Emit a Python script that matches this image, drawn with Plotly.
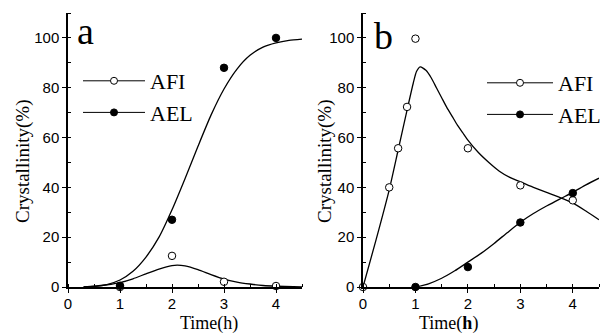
import plotly.graph_objects as go

# ---- data ----
# Panel a: measured points
a_time = [1, 2, 3, 4]
a_afi = [0, 12.5, 2.1, 0.4]
a_ael = [0.5, 27, 88, 100]
# Panel a: fitted curves
a_fit_afi_x = [0.3, 0.5, 0.75, 1.0, 1.25, 1.5, 1.75, 2.0, 2.1, 2.25, 2.5, 2.75, 3.0, 3.25, 3.5, 3.75, 4.0, 4.5]
a_fit_afi_y = [0, 0.3, 0.9, 1.8, 3.3, 5.3, 7.2, 8.6, 8.8, 8.5, 7.0, 5.0, 3.2, 2.0, 1.2, 0.6, 0.3, 0]
a_fit_ael_x = [0.3, 0.5, 0.75, 1.0, 1.25, 1.5, 1.75, 2.0, 2.25, 2.5, 2.75, 3.0, 3.25, 3.5, 3.75, 4.0, 4.25, 4.5]
a_fit_ael_y = [0, 0.2, 1.0, 2.8, 6.3, 12, 20, 31, 43.5, 56.5, 69, 79.5, 87.5, 93, 96.3, 98, 99, 99.5]

# Panel b: measured points
b_afi_time = [0, 0.5, 0.67, 0.84, 1.0, 2, 3, 4]
b_afi = [0, 40, 55.7, 72.3, 99.7, 55.7, 40.8, 34.8]
b_ael_time = [1, 2, 3, 4]
b_ael = [0, 8, 25.9, 37.7]
# Panel b: fitted curves
b_fit_afi_x = [0, 0.25, 0.5, 0.67, 0.84, 0.96, 1.02, 1.09, 1.2, 1.3, 1.4, 1.5, 1.6, 1.7, 1.8, 1.9,
               2.0, 2.2, 2.4, 2.6, 2.8, 3.0, 3.25, 3.5, 3.75, 4.0, 4.25, 4.5]
b_fit_afi_y = [0, 19, 39, 55, 71, 82, 86.5, 88.4, 87, 84, 80, 76, 72, 68.5, 65, 62,
               59, 54, 50, 46.5, 44, 42.2, 40, 38, 36, 33.8, 30.5, 27]
b_fit_ael_x = [1.0, 1.25, 1.5, 1.75, 2.0, 2.25, 2.5, 2.75, 3.0, 3.25, 3.5, 3.75, 4.0, 4.25, 4.5]
b_fit_ael_y = [0, 1.3, 3.5, 6.5, 10, 13.5, 17.5, 21.8, 26, 29.5, 32.5, 35.3, 38, 41, 43.7]

x_ticks = [0, 1, 2, 3, 4]
y_ticks = [0, 20, 40, 60, 80, 100]

W, H = 604, 335
SERIF = "Times New Roman"
SANS = "Arial"

fig = go.Figure()

def curve(x, y, xa, ya):
    fig.add_trace(go.Scatter(x=x, y=y, mode="lines", xaxis=xa, yaxis=ya,
                             line=dict(color="black", width=1.3, shape="spline", smoothing=0.6),
                             showlegend=False, hoverinfo="skip"))

def pts(x, y, xa, ya, filled):
    fig.add_trace(go.Scatter(x=x, y=y, mode="markers", xaxis=xa, yaxis=ya, cliponaxis=False,
                             marker=dict(size=7.5, symbol="circle",
                                         color="black" if filled else "white",
                                         line=dict(color="black", width=1)),
                             showlegend=False))

def leg(name, filled, legend):
    fig.add_trace(go.Scatter(x=[None], y=[None], mode="lines+markers", name=name, legend=legend,
                             line=dict(color="black", width=1),
                             marker=dict(size=7, color="black" if filled else "white",
                                         line=dict(color="black", width=1))))

curve(a_fit_ael_x, a_fit_ael_y, "x", "y")
curve(a_fit_afi_x, a_fit_afi_y, "x", "y")
pts(a_time, a_afi, "x", "y", False)
pts(a_time, a_ael, "x", "y", True)

curve(b_fit_afi_x, b_fit_afi_y, "x2", "y2")
curve(b_fit_ael_x, b_fit_ael_y, "x2", "y2")
pts(b_afi_time, b_afi, "x2", "y2", False)
pts(b_ael_time, b_ael, "x2", "y2", True)

leg("AFI", False, "legend")
leg("AEL", True, "legend")
leg("AFI", False, "legend2")
leg("AEL", True, "legend2")

ydom = [1 - 287 / H, 1 - 13 / H]

def xaxis(dom, anchor):
    return dict(domain=dom, anchor=anchor, range=[0, 4.5], tickvals=x_ticks,
                showline=True, linecolor="black", linewidth=1.5, mirror=False,
                ticks="outside", ticklen=4, tickwidth=1.2, tickcolor="black",
                ticklabelstandoff=-2,
                minor=dict(dtick=0.5, ticks="inside", ticklen=3, tickcolor="black", tickwidth=1),
                showgrid=False, zeroline=False, automargin=False,
                tickfont=dict(family=SANS, size=15, color="black"), fixedrange=True)

def yaxis(anchor):
    return dict(domain=ydom, anchor=anchor, range=[0, 110], tickvals=y_ticks,
                showline=True, linecolor="black", linewidth=1.5, mirror=False,
                ticks="outside", ticklen=4, tickwidth=1.2, tickcolor="black",
                minor=dict(dtick=10, ticks="inside", ticklen=3, tickcolor="black", tickwidth=1),
                showgrid=False, zeroline=False, automargin=False,
                tickfont=dict(family=SANS, size=15, color="black"), fixedrange=True)

legfont = dict(family=SERIF, size=22, color="black")

fig.update_layout(
    width=W, height=H, margin=dict(l=0, r=0, t=0, b=0, autoexpand=False),
    paper_bgcolor="white", plot_bgcolor="white",
    xaxis=xaxis([68 / W, 302 / W], "y"),
    yaxis=yaxis("x"),
    xaxis2=xaxis([363 / W, 599 / W], "y2"),
    yaxis2=yaxis("x2"),
    legend=dict(x=78 / W, y=1 - 60 / H, xanchor="left", yanchor="top",
                bgcolor="rgba(0,0,0,0)", font=legfont, itemwidth=62,
                tracegroupgap=0),
    legend2=dict(x=482 / W, y=1 - 62 / H, xanchor="left", yanchor="top",
                 bgcolor="rgba(0,0,0,0)", font=legfont, itemwidth=66,
                 tracegroupgap=0),
    annotations=[
        dict(text="a", x=75 / W, y=1 - 31 / H, xref="paper", yref="paper", showarrow=False,
             yanchor="middle", font=dict(family=SERIF, size=38, color="black")),
        dict(text="b", x=383 / W, y=1 - 36 / H, xref="paper", yref="paper", showarrow=False,
             yanchor="middle", font=dict(family=SERIF, size=38, color="black")),
        dict(text="Time(h)", x=178 / W, y=1 - 323 / H, xref="paper", yref="paper", showarrow=False,
             yanchor="middle", font=dict(family=SERIF, size=18, color="black")),
        dict(text="Time(<b>h</b>)", x=480 / W, y=1 - 323 / H, xref="paper", yref="paper", showarrow=False,
             yanchor="middle", font=dict(family=SERIF, size=18, color="black")),
        dict(text="Crystallinity(%)", x=23 / W, y=1 - 162 / H, xref="paper", yref="paper",
             showarrow=False, textangle=-90, xanchor="center", yanchor="middle",
             font=dict(family=SERIF, size=19, color="black")),
        dict(text="Crystallinity(%)", x=325 / W, y=1 - 162 / H, xref="paper", yref="paper",
             showarrow=False, textangle=-90, xanchor="center", yanchor="middle",
             font=dict(family=SERIF, size=19, color="black")),
    ],
)

fig.write_html("out.html", config={"displayModeBar": False},
               post_script="document.body.style.margin='0';document.body.style.overflow='hidden';")
